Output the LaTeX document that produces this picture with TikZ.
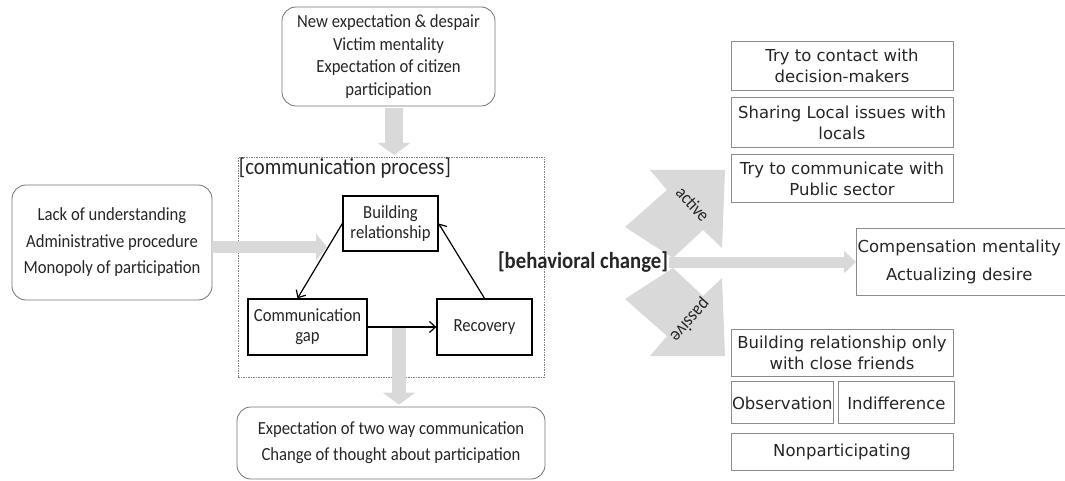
\documentclass[tikz,border=0pt]{standalone}
\usepackage{fontspec}
\setmainfont{Carlito}[FakeStretch=0.9]
\newfontfamily\boxfont{DejaVu Sans}
\usetikzlibrary{positioning,arrows.meta}

\tikzset{
  softbox/.style={draw=black!55, line width=0.8pt, rounded corners=14pt, align=center,
    text=black!85, font=\fontsize{18.5}{22.5}\selectfont},
  procbox/.style={draw, line width=1.3pt, align=center, inner sep=2pt,
    text=black!85, font=\fontsize{18.5}{20}\selectfont},
  sidebox/.style={draw=black!45, line width=0.9pt, align=center, minimum width=222pt,
    inner sep=1pt, text=black!85, font=\boxfont\fontsize{16.5}{21}\selectfont},
  boxline/.style={draw=black!45, line width=0.9pt},
  fatarrow/.style={draw=black!15, line width=16pt, -{Triangle[width=32pt,length=12pt]}},
  cycarrow/.style={line width=1.2pt, -{Straight Barb[length=6pt,width=11pt]}},
  chevron/.style={fill=black!15, draw=none}
}

\begin{document}
\begin{tikzpicture}[x=1pt, y=-1pt, node distance=6pt]
  \useasboundingbox (0,0) rectangle (1065,481);

  % inputs
  \node[softbox, minimum width=213pt, minimum height=99pt] (exp) at (388.5,56.5)
    {New expectation \& despair\\Victim mentality\\Expectation of citizen\\participation};
  \node[softbox, minimum width=200pt, minimum height=115pt,
    font=\fontsize{18.5}{26.5}\selectfont] (barr) at (112,242.5)
    {Lack of understanding\\Administrative procedure\\Monopoly of participation};

  % communication process
  \node[draw=black!50, dash pattern=on 1.5pt off 1pt, line width=0.6pt,
    minimum width=306pt, minimum height=220pt] (proc) at (391,267) {};
  \node[anchor=north west, inner sep=1pt, text=black!85,
    font=\fontsize{23}{26}\selectfont] (proclbl) at (proc.north west) {[communication process]};
  \node[procbox, minimum width=95pt, minimum height=55pt] (build) at (390.5,223.5)
    {Building\\relationship};
  \node[procbox, minimum width=119pt, minimum height=56pt] (gap) at (307.5,327)
    {Communication\\gap};
  \node[procbox, minimum width=95pt, minimum height=56pt] (recov) at (484.5,327) {Recovery};

  \node[softbox, minimum width=308pt, minimum height=72pt,
    font=\fontsize{18.5}{26}\selectfont] (expect) at (391,443)
    {Expectation of two way communication\\Change of thought about participation};

  % gray arrows
  \coordinate (inL) at (327,247);
  \coordinate (outB) at (399,328);
  \draw[fatarrow, line width=18pt] ([xshift=5.5pt,yshift=-2pt]exp.south)
    -- ([xshift=5.5pt]exp.south |- 0,155);
  \draw[fatarrow, line width=12pt, -{Triangle[width=26pt,length=11pt]}]
    ([yshift=-4.5pt]barr.east) -- (inL);
  \draw[fatarrow, line width=14pt] (outB) -- ([yshift=2pt]outB |- expect.north);

  \draw[cycarrow] (build.west) -- ([xshift=-10pt]gap.north);
  \draw[cycarrow] (gap.east) -- (recov.west);
  \draw[cycarrow] (recov.north) -- (build.east);

  % behavioral change
  \fill[chevron] (625,227) -- (667,190) -- (650,170) -- (725,170) -- (722,248)
    -- (703,230) -- (673,258) -- cycle;
  \fill[chevron] (625,299) -- (667,336) -- (650,356) -- (725,356) -- (722,278)
    -- (703,296) -- (673,268) -- cycle;
  \node[rotate=-48, inner sep=0pt, text=black!85, font=\fontsize{18.5}{20}\selectfont]
    (actlbl) at (693,204) {active};
  \node[rotate=228, inner sep=0pt, text=black!85, font=\fontsize{19}{20}\selectfont]
    (paslbl) at (690,320) {passive};

  \node[inner sep=0pt, text=black!85, font=\bfseries\fontsize{23}{26}\selectfont]
    (behav) at (583,262) {[behavioral change]};
  \node[align=center, text width=204pt, inner xsep=1pt, minimum height=66pt,
    text=black!85, font=\boxfont\fontsize{16.5}{28}\selectfont, anchor=west]
    (comp) at (856,262) {Compensation mentality\\Actualizing desire};
  \draw[boxline] (comp.north west) rectangle ([xshift=14pt]comp.south east);
  \draw[fatarrow, line width=11pt, -{Triangle[width=22pt,length=12pt]}]
    ([xshift=1pt]behav.east) -- (comp.west);

  % active outcomes
  \node[sidebox, minimum height=49pt] (act1) at (842,65.5) {Try to contact with\\decision-makers};
  \node[sidebox, minimum height=50pt, below=7pt of act1] (act2) {Sharing Local issues with\\locals};
  \node[sidebox, minimum height=48pt, below=of act2] (act3) {Try to communicate with\\Public sector};

  % passive outcomes
  \node[sidebox, minimum height=47pt] (pas1) at (842,352.5) {Building relationship only\\with close friends};
  \node[sidebox, minimum width=102pt, minimum height=42pt, anchor=north west]
    (obs) at ([yshift=-5pt]pas1.south west) {Observation};
  \node[sidebox, minimum width=116pt, minimum height=42pt, right=4pt of obs] (indif) {Indifference};
  \node[sidebox, minimum height=37pt, below=9pt of obs.south west, anchor=north west]
    (nonp) {Nonparticipating};
\end{tikzpicture}
\end{document}
